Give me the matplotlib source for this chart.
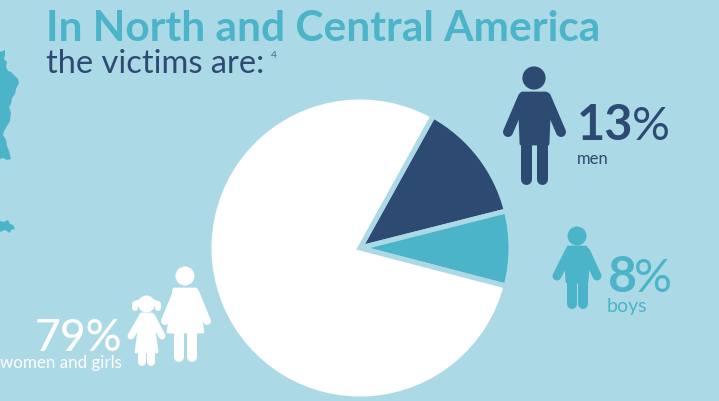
import matplotlib
matplotlib.use("Agg")
import matplotlib.pyplot as plt
from matplotlib.patches import Circle, Polygon, Rectangle

# victims by group
groups = ["men", "boys", "women and girls"]
shares = [13, 8, 79]

BG = "#acd9e6"
TEAL = "#4bb4c8"
NAVY = "#2d4a73"
WHITE = "#ffffff"

plt.rcParams["font.family"] = ["Lato", "DejaVu Sans"]

fig = plt.figure(figsize=(7.19, 4.02), dpi=100, facecolor=BG)

# pie, in its own axes
cx, cy, r = 360, 249, 151
ax_pie = fig.add_axes([(cx - r) / 719, (402 - cy - r) / 402, 2 * r / 719, 2 * r / 402])
ax_pie.pie(shares, colors=[NAVY, TEAL, WHITE], startangle=61, counterclock=False, radius=1,
           wedgeprops=dict(edgecolor=BG, linewidth=3.6))
ax_pie.set_xlim(-1, 1)
ax_pie.set_ylim(-1, 1)
ax_pie.axis("off")

# everything else is placed in pixels, y going down
ax = fig.add_axes([0, 0, 1, 1], facecolor="none")
ax.set_xlim(0, 719)
ax.set_ylim(402, 0)
ax.axis("off")

ax.add_patch(Rectangle((0, 0), 719, 1.2, color="#d6edf3", lw=0))

# bits of the map on the left edge
ax.add_patch(Polygon([(0, 53), (3, 52), (5, 51), (5, 56), (4, 60), (7, 63), (6, 68), (8, 72), (11, 73),
                      (14, 76), (18, 80), (19, 84), (16, 90), (15, 95), (12, 99), (11, 105), (9, 108),
                      (11, 114), (10, 122), (7, 127), (4, 132), (3, 136), (6, 141), (7, 147), (9, 152),
                      (11, 160), (7, 161), (3, 159), (0, 160)], color=TEAL, lw=0))
ax.add_patch(Polygon([(0, 222), (4, 223), (8, 221), (10, 225), (13, 226), (15, 230), (11, 231),
                      (10, 234), (5, 231), (0, 233)], color=TEAL, lw=0))


def stroke(x0, y0, x1, y1, w, color):
    ax.plot([x0, x1], [y0, y1], color=color, lw=w * 0.72, solid_capstyle="round")


def person(head, head_r, body, arms, legs, arm_w, leg_w, color):
    ax.add_patch(Circle(head, head_r, color=color, lw=0))
    ax.add_patch(Polygon(body, color=color, lw=2, joinstyle="round"))
    for a in arms:
        stroke(*a, arm_w, color)
    for l in legs:
        stroke(*l, leg_w, color)


# man
person((534, 79), 11.6, [(522, 94), (546, 94), (549, 120), (548, 145), (521, 145), (520, 120)],
       [(523, 98, 508, 133), (546, 98, 561, 133)],
       [(526, 140, 526, 180), (542, 140, 542, 180)], 10, 11, NAVY)
# boy
person((577, 237), 9.5, [(568, 248), (586, 248), (588, 268), (587, 283), (567, 283), (566, 268)],
       [(569, 253, 557, 277), (586, 253, 597, 277)],
       [(572, 280, 572, 305), (583, 280, 583, 305)], 9, 10, TEAL)
# woman
person((185, 277), 9.5, [(174, 290), (196, 290), (203, 333), (168, 333)],
       [(177, 293, 165, 322), (195, 293, 207, 322)],
       [(179, 330, 179, 358), (192, 330, 192, 358)], 8, 10, WHITE)
# girl with pigtails
person((146.5, 305), 8.5, [(141, 315), (152, 315), (157, 353), (136, 353)],
       [(142, 318, 131, 337), (152, 318, 162, 337)],
       [(142, 350, 142, 363), (151, 350, 151, 363)], 7, 8, WHITE)
stroke(135, 305, 135, 309, 6, WHITE)
stroke(158, 305, 158, 309, 6, WHITE)
stroke(135, 304, 141, 302, 4, WHITE)
stroke(158, 304, 152, 302, 4, WHITE)

# headings
ax.text(46, 41, "In North and Central America", color=TEAL, fontsize=30.5, fontweight="bold", va="baseline")
ax.text(46, 73, "the victims are:", color=NAVY, fontsize=23.5, va="baseline")
ax.text(271, 58, "4", color=NAVY, fontsize=7.5, va="baseline", alpha=0.8)

# value labels
ax.text(577, 140, f"{shares[0]}", color=NAVY, fontsize=35, fontweight="bold", va="baseline")
ax.text(632, 140, "%", color=NAVY, fontsize=34, va="baseline")
ax.text(577, 164, groups[0], color=NAVY, fontsize=12, va="baseline")
ax.text(608, 292, f"{shares[1]}", color=TEAL, fontsize=36, fontweight="bold", va="baseline")
ax.text(634, 292, "%", color=TEAL, fontsize=34, va="baseline")
ax.text(607, 312, groups[1], color=TEAL, fontsize=14, va="baseline")
ax.text(122, 351, f"{shares[2]}%", color=WHITE, fontsize=32, fontweight="medium", ha="right", va="baseline")
ax.text(122, 368, groups[2], color=WHITE, fontsize=12.2, ha="right", va="baseline")

fig.savefig("out.png", dpi=100, facecolor=BG)
